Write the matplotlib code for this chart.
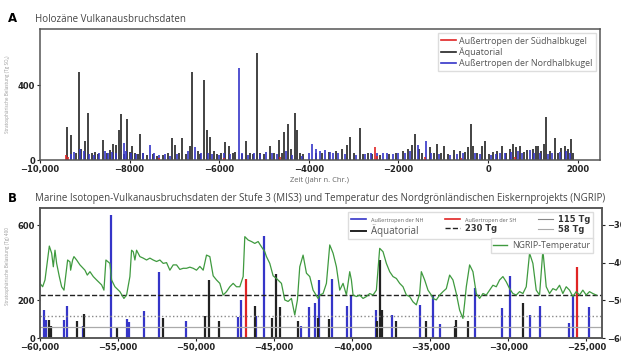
import matplotlib
matplotlib.use("Agg")
import matplotlib.pyplot as plt
from matplotlib.lines import Line2D

# --- Panel A: Holocene eruptions (year, stratospheric load) ---
a_black_years = [-9400, -9310, -9200, -9140, -9080, -9000, -8930, -8850, -8780, -8700,
                 -8585, -8500, -8430, -8360, -8300, -8240, -8200, -8130, -8060, -8000,
                 -7955, -7880, -7820, -7770, -7700, -7620, -7480, -7380, -7250, -7150,
                 -7050, -6980, -6900, -6830, -6750, -6660, -6600, -6480, -6430, -6350,
                 -6270, -6200, -6120, -6050, -5960, -5860, -5790, -5700, -5640, -5480,
                 -5400, -5320, -5240, -5160, -5080, -4990, -4870, -4770, -4660, -4600,
                 -4550, -4475, -4400, -4310, -4270, -4200, -4120, -3830, -3700, -3560,
                 -3400, -3250, -3150, -3082, -3000, -2860, -2780, -2680, -2600, -2400,
                 -2200, -2050, -1900, -1780, -1700, -1622, -1540, -1470, -1300, -1200,
                 -1140, -1060, -978, -900, -750, -620, -520, -440, -384, -326,
                 -250, -140, -67, 20, 120, 200, 304, 400, 480, 563,
                 620, 711, 800, 870, 1000, 1070, 1118, 1190, 1252, 1304,
                 1380, 1489, 1560, 1640, 1711, 1780, 1860, 1900]
a_black_vals = [176, 133, 40, 471, 60, 100, 252, 35, 45, 30,
                107, 40, 55, 85, 80, 160, 245, 30, 220, 45,
                75, 40, 30, 139, 35, 25, 30, 20, 25, 40,
                117, 80, 35, 117, 30, 75, 471, 50, 30, 427,
                160, 125, 50, 30, 40, 95, 75, 35, 45, 30,
                100, 40, 30, 572, 40, 30, 75, 35, 107, 40,
                151, 192, 60, 252, 160, 40, 30, 35, 40, 45,
                50, 60, 80, 124, 40, 169, 30, 40, 30, 25,
                30, 40, 50, 60, 80, 139, 60, 40, 70, 40,
                85, 40, 75, 30, 55, 50, 45, 70, 192, 75,
                40, 75, 100, 30, 45, 50, 75, 40, 60, 85,
                70, 75, 45, 55, 60, 75, 75, 50, 85, 228,
                50, 117, 40, 65, 75, 60, 110, 40]

a_blue_years = [-9300, -9230, -9100, -9020, -8900, -8800, -8680, -8560, -8480, -8400,
                -8300, -8130, -8080, -7960, -7850, -7700, -7550, -7450, -7350, -7220,
                -7100, -6950, -6700, -6540, -6400, -6250, -6150, -6000, -5900, -5750,
                -5560, -5500, -5350, -5220, -5100, -4950, -4830, -4700, -4520, -4380,
                -4150, -4000, -3918, -3850, -3760, -3630, -3520, -3450, -3350, -3200,
                -2950, -2750, -2620, -2480, -2350, -2250, -2130, -2000, -1850, -1750,
                -1570, -1378, -1280, -1100, -850, -700, -560, -300, -180, 60,
                180, 260, 370, 520, 680, 760, 933, 1030, 1150, 1330,
                1420, 1600, 1750, 1830]
a_blue_vals = [30, 45, 60, 50, 30, 25, 40, 50, 35, 45,
               40, 90, 50, 40, 30, 40, 80, 40, 25, 30,
               20, 30, 50, 70, 35, 40, 30, 25, 40, 30,
               489, 40, 25, 40, 30, 45, 40, 30, 50, 25,
               20, 40, 85, 60, 50, 55, 45, 35, 40, 30,
               25, 30, 35, 40, 35, 40, 30, 35, 40, 50,
               80, 103, 40, 30, 25, 30, 40, 35, 30, 25,
               30, 40, 35, 45, 50, 40, 55, 40, 35, 30,
               40, 45, 50, 35]

a_red_years = [-9430, -9380, -7350, -5900, -4650, -2533, -2480, -1400, -600, 600]
a_red_vals = [25, 15, 10, 12, 15, 71, 20, 15, 10, 15]

a_ticks = [-10000, -8000, -6000, -4000, -2000, 0, 2000]
a_ticklabels = ["\u221210,000", "\u22128000", "\u22126000", "\u22124000", "\u22122000", "0", "2000"]

# --- Panel B: MIS3 eruptions ---
b_blue_years = [-59723, -59617, -58443, -58251, -57270, -55457, -54454, -54283, -53345, -52385,
                -50679, -47309, -47138, -46135, -45666, -43253, -42763, -42400, -42144, -41270,
                -40310, -40054, -38497, -37430, -35681, -34827, -34358, -32120, -30392, -29880,
                -28600, -27960, -26083, -25870, -24803]
b_blue_vals = [150, 97, 97, 172, 65, 656, 101, 86, 142, 354,
               88, 112, 200, 116, 544, 62, 165, 186, 310, 313,
               172, 230, 150, 124, 177, 230, 76, 266, 159, 328,
               124, 168, 80, 230, 165]

b_black_years = [-59403, -59296, -57611, -57163, -55095, -52107, -49419, -49185, -48545, -46200,
                 -45110, -44854, -44641, -43468, -42187, -41483, -38390, -38240, -38091, -37217,
                 -35255, -33440, -33333, -32587, -29069]
b_black_vals = [94, 65, 90, 129, 60, 106, 116, 310, 88, 168,
                106, 340, 165, 90, 106, 101, 88, 416, 150, 88,
                88, 62, 97, 88, 186]

b_red_years = [-46817, -25614]
b_red_vals = [313, 381]

thresholds = [230, 115, 58]

# NGRIP temperature (year, deg C)
ngrip_years = [-60000, -59830, -59680, -59403, -59253, -59147, -59040, -58934, -58763, -58614,
               -58464, -58358, -58230, -58080, -58038, -57910, -57825, -57654, -57441, -57121,
               -56971, -56800, -56587, -56374, -56054, -55905, -55777, -55521, -55414, -55201,
               -54881, -54625, -54454, -54241, -54134, -54027, -53921, -53814, -53601, -53388,
               -53174, -52961, -52747, -52534, -52321, -52107, -51894, -51681, -51467, -51254,
               -51041, -50827, -50614, -50401, -50187, -49974, -49761, -49547, -49334, -49121,
               -48907, -48694, -48481, -48267, -48054, -47841, -47627, -47414, -47201, -46987,
               -46881, -46667, -46454, -46241, -46027, -45814, -45601, -45494, -45281, -45067,
               -44854, -44534, -44321, -44107, -43894, -43681, -43510, -43361, -43147, -42933,
               -42720, -42507, -42187, -42080, -41867, -41653, -41440, -41227, -41013, -40800,
               -40587, -40373, -40160, -40053, -39947, -39733, -39520, -39307, -39093, -38880,
               -38667, -38453, -38240, -38027, -37813, -37600, -37387, -37173, -36960, -36747,
               -36533, -36320, -36107, -35893, -35680, -35573, -35360, -35147, -34933, -34827,
               -34613, -34400, -34187, -33973, -33760, -33547, -33333, -33120, -32907, -32800,
               -32693, -32480, -32267, -32053, -31840, -31627, -31413, -31200, -30987, -30773,
               -30560, -30347, -30133, -29920, -29707, -29493, -29280, -29067, -28853, -28640,
               -28427, -28213, -28000, -27787, -27573, -27360, -27147, -26933, -26720, -26507,
               -26293, -26080, -25867, -25653, -25440, -25227, -25013, -24800, -24587, -24373]
ngrip_temp = [-45.5, -46.4, -44.6, -35.6, -37.5, -41.1, -36.7, -40.2, -43.7, -46.4,
              -47.3, -43.7, -39.3, -39.8, -42.0, -39.3, -38.4, -39.3, -40.6, -42.0,
              -43.3, -42.4, -43.7, -44.6, -45.9, -47.3, -39.3, -40.2, -44.6, -46.4,
              -47.7, -49.5, -48.6, -43.7, -36.7, -37.1, -39.3, -36.7, -38.4, -38.8,
              -39.3, -38.8, -39.3, -39.7, -39.3, -40.2, -40.0, -42.0, -40.6, -40.6,
              -41.8, -41.5, -41.5, -41.2, -41.5, -42.0, -41.0, -42.0, -38.0, -38.4,
              -43.5, -44.6, -45.5, -48.6, -47.7, -46.4, -45.5, -46.4, -46.4, -43.7,
              -33.1, -34.0, -34.4, -34.9, -34.4, -35.8, -37.1, -38.4, -40.2, -43.5,
              -44.2, -45.5, -49.9, -50.3, -49.5, -53.9, -49.9, -41.1, -38.0, -42.8,
              -43.7, -47.3, -49.5, -48.6, -48.2, -45.5, -35.3, -37.5, -41.1, -47.3,
              -45.5, -48.6, -42.4, -44.6, -48.6, -49.0, -48.6, -49.5, -49.0, -48.2,
              -48.6, -47.3, -36.2, -37.1, -40.2, -42.4, -43.7, -44.2, -45.5, -46.4,
              -48.6, -49.0, -50.4, -51.2, -48.2, -42.4, -44.6, -47.3, -48.6, -49.5,
              -49.9, -48.6, -47.7, -46.9, -43.3, -44.6, -48.2, -52.6, -54.8, -50.8,
              -46.4, -40.6, -42.4, -48.2, -49.5, -48.2, -48.6, -47.3, -46.0, -46.4,
              -44.6, -43.7, -45.1, -46.9, -48.2, -48.6, -47.7, -48.2, -46.4, -37.5,
              -40.2, -47.3, -48.6, -36.7, -46.4, -48.2, -46.9, -47.3, -46.0, -48.2,
              -46.4, -47.3, -49.0, -47.7, -48.6, -47.3, -48.6, -47.7, -48.2, -48.6]

b_ticks = [-60000, -55000, -50000, -45000, -40000, -35000, -30000, -25000]
b_ticklabels = ["\u221260,000", "\u221255,000", "\u221250,000", "\u221245,000",
                "\u221240,000", "\u221235,000", "\u221230,000", "\u221225,000"]

BLUE = "#3535c8"
BLACK = "#222222"
RED = "#e02424"
GREEN = "#3f9a3f"
TXT = "#444444"
TFONT = ["Open Sans", "DejaVu Sans"]

fig = plt.figure(figsize=(6.21, 3.54), dpi=100)

def style_axes(ax):
    for s in ax.spines.values():
        s.set_color("#555555")
        s.set_linewidth(1.1)
    ax.tick_params(labelsize=6, length=2.5, width=0.8, pad=1, colors="#222222")
    for lab in ax.get_xticklabels() + ax.get_yticklabels():
        lab.set_fontweight("bold")

# Panel A
ax1 = fig.add_axes([40 / 621, 1 - 160 / 354, 560 / 621, 131 / 354])
ax1.vlines(a_black_years, 0, a_black_vals, color=BLACK, lw=1.2)
ax1.vlines(a_blue_years, 0, a_blue_vals, color=BLUE, lw=1.2)
ax1.vlines(a_red_years, 0, a_red_vals, color=RED, lw=1.2)
ax1.set_xlim(-10000, 2500)
ax1.set_ylim(0, 700)
ax1.set_yticks([0, 400])
ax1.set_xticks(a_ticks)
ax1.set_xticklabels(a_ticklabels)
style_axes(ax1)
ax1.set_xlabel("Zeit (Jahr n. Chr.)", fontsize=5.5, color="#666666", labelpad=2, family=TFONT)
ax1.set_ylabel("Stratosph\u00e4rische Belastung (Tg SO\u2082)", fontsize=3.3, color="#999999",
               family=TFONT)
ax1.yaxis.set_label_coords(-30 / 560, 0.5)
h = [Line2D([], [], color=RED, lw=1.2), Line2D([], [], color=BLACK, lw=1.2), Line2D([], [], color=BLUE, lw=1.2)]
ax1.legend(h, ["Au\u00dfertropen der S\u00fcdhalbkugel", "\u00c4quatorial", "Au\u00dfertropen der Nordhalbkugel"],
           loc="upper right", prop={"family": TFONT, "size": 6.4},
           handlelength=1.6, handletextpad=0.4, labelspacing=0.2, borderpad=0.35,
           framealpha=1, edgecolor="#dddddd", fancybox=False, labelcolor="#555555")

# Panel B
ax2 = fig.add_axes([40 / 621, 1 - 338 / 354, 562 / 621, 130 / 354])
ax2.vlines(b_blue_years, 0, b_blue_vals, color=BLUE, lw=1.6)
ax2.vlines(b_black_years, 0, b_black_vals, color=BLACK, lw=1.6)
ax2.vlines(b_red_years, 0, b_red_vals, color=RED, lw=1.6)
ax2.axhline(thresholds[0], color="#222222", ls="--", lw=1.0)
ax2.axhline(thresholds[1], color="#888888", ls=":", lw=1.0)
ax2.axhline(thresholds[2], color="#aaaaaa", ls="-", lw=0.9)
ax2.set_xlim(-60000, -24000)
ax2.set_ylim(0, 693)
ax2.set_yticks([0, 200, 600])
ax2.set_xticks(b_ticks)
ax2.set_xticklabels(b_ticklabels)
style_axes(ax2)
ax2.set_xlabel("Zeit (Jahre v. Chr.)", fontsize=5.5, color="#666666", labelpad=5, family=TFONT)
ax2.set_ylabel("Stratosph\u00e4rische Belastung (Tg) 400", fontsize=3.3, color="#999999",
               family=TFONT)
ax2.yaxis.set_label_coords(-30 / 562, 0.55)

ax3 = ax2.twinx()
ax3.plot(ngrip_years, ngrip_temp, color=GREEN, lw=0.9)
ax3.set_ylim(-60, -25.5)
ax3.set_yticks([-60, -50, -40, -30])
ax3.tick_params(labelsize=6, length=2.5, width=0.8, pad=1, colors="#222222")
for lab in ax3.get_yticklabels():
    lab.set_fontweight("bold")
for s in ax3.spines.values():
    s.set_color("#555555")
    s.set_linewidth(1.1)

hb = [Line2D([], [], color=BLUE, lw=1.2), Line2D([], [], color=BLACK, lw=1.4),
      Line2D([], [], color=RED, lw=1.2), Line2D([], [], color="#222222", ls="--", lw=1.0),
      Line2D([], [], color="#888888", lw=0.8), Line2D([], [], color="#aaaaaa", lw=0.8)]
lb = ["Au\u00dfertropen der NH", "\u00c4quatorial", "Au\u00dfertropen der SH", "230 Tg", "115 Tg", "58 Tg"]
leg = ax3.legend(hb, lb, ncol=3, loc="upper right", bbox_to_anchor=(0.991, 1.0),
                 prop={"family": TFONT, "size": 6}, handlelength=1.8, handletextpad=0.6,
                 columnspacing=2.6, labelspacing=0.15, borderpad=0.3,
                 framealpha=1, edgecolor="#dddddd", fancybox=False)
texts = leg.get_texts()
for t in (texts[0], texts[2]):
    t.set_fontsize(4)
    t.set_color("#666666")
texts[1].set_fontsize(7)
texts[1].set_color("#555555")
for t in texts[3:]:
    t.set_fontweight("bold")
    t.set_family("DejaVu Sans")
    t.set_color("#333333")
    t.set_fontsize(6)
ax3.add_artist(leg)
ax3.legend([Line2D([], [], color=GREEN, lw=1.0)], ["NGRIP-Temperatur"], loc="upper right",
           bbox_to_anchor=(0.991, 0.8), prop={"family": TFONT, "size": 6.3},
           handlelength=1.6, handletextpad=0.5, borderpad=0.3, framealpha=1,
           edgecolor="#dddddd", fancybox=False, labelcolor="#555555")

# titles and panel letters
fig.text(35 / 621, 1 - 20 / 354, "Holoz\u00e4ne Vulkanausbruchsdaten", fontsize=7.0,
         color=TXT, va="center", family=TFONT)
fig.text(35 / 621, 1 - 199 / 354,
         "Marine Isotopen-Vulkanausbruchsdaten der Stufe 3 (MIS3) und Temperatur des "
         "Nordgr\u00f6nl\u00e4ndischen Eiskernprojekts (NGRIP)",
         fontsize=7.0, color=TXT, va="center", family=TFONT)
fig.text(8 / 621, 1 - 19 / 354, "A", fontsize=8.5, fontweight="bold", va="center")
fig.text(8 / 621, 1 - 199 / 354, "B", fontsize=8.5, fontweight="bold", va="center")

fig.savefig("out.png", dpi=100)
